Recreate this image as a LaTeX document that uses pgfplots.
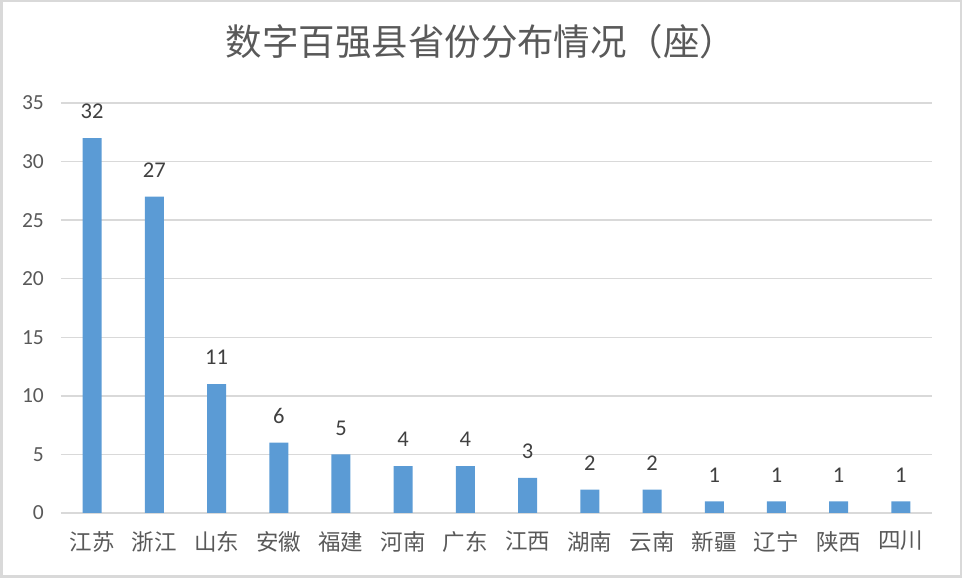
\documentclass[border=0pt]{standalone}
\usepackage{pgfplots}
\pgfplotsset{compat=1.18}
\usepackage{fontspec}
\setmainfont{Carlito}
\newfontfamily\cjk{Noto Sans CJK SC}
\definecolor{barblue}{HTML}{5B9BD5}
\definecolor{gridgray}{HTML}{D9D9D9}
\definecolor{ticktext}{HTML}{595959}
\definecolor{labtext}{HTML}{404040}
\begin{document}
\begin{tikzpicture}[x=1pt,y=1pt]
\useasboundingbox (0,0) rectangle (962,578);
\draw[gridgray, line width=2.5pt] (1.25,1.25) rectangle (960.75,576.75);
\node[font=\cjk\fontsize{36.5}{36.5}\selectfont, text=ticktext] at (481,536) {数字百强县省份分布情况（座）};
\begin{axis}[
  at={(61pt,65pt)}, anchor=south west,
  width=871pt, height=410pt, scale only axis,
  ymin=0, ymax=35, ytick={0,5,...,35},
  xmin=-0.5, xmax=13.5,
  xtick={0,...,13},
  xticklabels={江苏,浙江,山东,安徽,福建,河南,广东,江西,湖南,云南,新疆,辽宁,陕西,四川},
  axis line style={draw=none},
  major tick length=0pt,
  ymajorgrids, grid style={gridgray, line width=1.5pt},
  /pgf/number format/assume math mode=true,
  yticklabel style={font=\fontsize{21.5}{21.5}\selectfont, text=ticktext, anchor=east, inner sep=0pt, xshift=-17pt},
  xticklabel style={font=\cjk\fontsize{22.5}{22.5}\selectfont, text=ticktext, anchor=north, inner sep=0pt, yshift=-18pt},
  ybar, bar width=19pt,
  nodes near coords,
  every node near coord/.append style={font=\fontsize{22.5}{22.5}\selectfont, text=labtext, anchor=south, inner sep=0pt, yshift=19pt},
  clip=false,
]
\addplot[fill=barblue, draw=none, bar shift=0pt] coordinates {
(0,32) (1,27) (2,11) (3,6) (4,5) (5,4) (6,4) (7,3) (8,2) (9,2) (10,1) (11,1) (12,1) (13,1)
};
\end{axis}
\end{tikzpicture}
\end{document}
